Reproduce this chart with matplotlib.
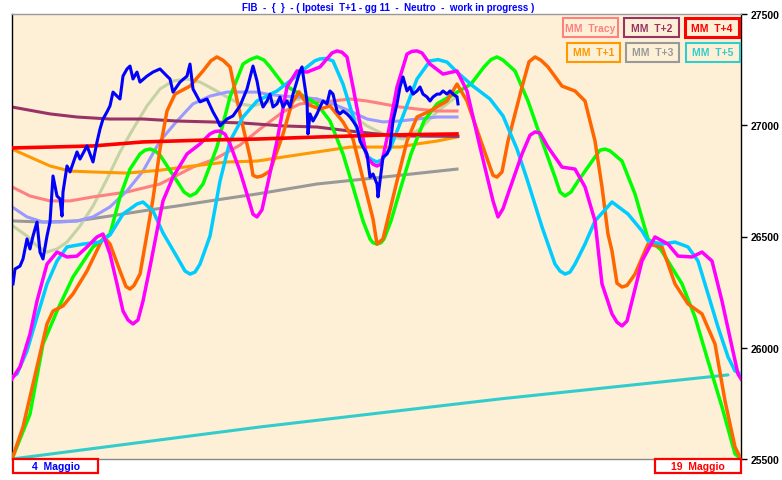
import matplotlib
matplotlib.use('Agg')
import matplotlib.pyplot as plt
from matplotlib.patches import Rectangle

# ---------------- data (t = bar index, v = price) ----------------
green_t = [0, 18, 31, 45, 61, 81, 98, 108, 118, 128, 133, 138, 143, 148, 165, 172, 178, 184, 191, 205, 218, 231, 238, 245, 252, 258, 271, 288, 305, 318,
           331, 341, 351, 358, 361, 365, 369, 372, 379, 389, 399, 412, 425, 442, 459, 472, 479, 485, 491, 503, 516, 530, 543, 548, 553, 559, 566, 583, 588, 593,
           598, 610, 623, 636, 649, 670, 683, 696, 710, 723, 729]
green_v = [25500, 25702, 26017, 26165, 26318, 26453, 26511, 26678, 26803, 26871, 26888, 26893, 26885, 26866, 26749, 26700, 26682, 26695, 26736, 26902, 27127, 27275, 27295, 27307, 27293, 27262, 27185, 27140, 27096, 27019,
           26871, 26723, 26570, 26489, 26472, 26466, 26472, 26489, 26570, 26723, 26871, 27019, 27096, 27140, 27185, 27262, 27295, 27307, 27293, 27244, 27109, 26929, 26767, 26700, 26682, 26700, 26749, 26857, 26888, 26893,
           26885, 26839, 26691, 26489, 26440, 26287, 26138, 25941, 25734, 25523, 25500]

orange_t = [0, 11, 25, 35, 41, 51, 61, 75, 88, 92, 98, 108, 114, 118, 122, 128, 135, 141, 148, 155, 163, 178, 191, 199, 205, 211, 218, 228, 238, 241,
            245, 250, 258, 271, 280, 287, 295, 308, 318, 331, 341, 351, 361, 365, 371, 385, 395, 405, 418, 435, 445, 455, 471, 481, 485, 490, 496, 510, 517, 523,
            529, 536, 550, 563, 573, 583, 590, 596, 600, 605, 610, 615, 623, 636, 650, 663, 676, 690, 703, 713, 723, 729]
orange_v = [25500, 25644, 25914, 26107, 26165, 26188, 26242, 26345, 26466, 26498, 26466, 26345, 26275, 26264, 26280, 26331, 26511, 26669, 26893, 27064, 27140, 27176, 27244, 27290, 27307, 27292, 27262, 27051, 26857, 26775,
            26767, 26772, 26794, 26960, 27100, 27150, 27095, 27073, 27087, 27015, 26938, 26758, 26579, 26466, 26489, 26749, 26929, 27037, 27064, 27109, 27185, 27109, 26902, 26775, 26767, 26790, 26929, 27172, 27285, 27307,
            27292, 27262, 27176, 27154, 27109, 26929, 26723, 26511, 26435, 26290, 26273, 26280, 26331, 26466, 26453, 26287, 26197, 26152, 26017, 25761, 25554, 25500]

magenta_t = [0, 8, 18, 25, 35, 45, 55, 65, 75, 85, 91, 98, 105, 111, 116, 121, 126, 131, 138, 145, 151, 161, 175, 188, 198, 203, 208, 213, 218, 228,
             238, 241, 245, 250, 255, 265, 275, 285, 295, 308, 320, 325, 330, 335, 341, 348, 355, 361, 365, 369, 371, 378, 385, 395, 400, 405, 410, 418, 431, 445,
             455, 468, 481, 486, 491, 496, 510, 518, 523, 528, 536, 550, 563, 573, 583, 590, 600, 605, 610, 615, 620, 630, 643, 656, 666, 680, 690, 700, 710, 720,
             726, 729]
magenta_v = [25860, 25914, 26062, 26210, 26376, 26430, 26408, 26412, 26453, 26498, 26511, 26421, 26287, 26165, 26125, 26107, 26125, 26210, 26363, 26525, 26660, 26767, 26871, 26916, 26961, 26972, 26974, 26960, 26916, 26794,
             26646, 26600, 26588, 26620, 26723, 26929, 27172, 27244, 27239, 27262, 27325, 27334, 27328, 27307, 27172, 27006, 26857, 26825, 26817, 26825, 26857, 27006, 27172, 27320, 27332, 27334, 27325, 27275, 27230, 27244,
             27154, 26902, 26660, 26588, 26625, 26691, 26871, 26955, 26970, 26965, 26902, 26812, 26803, 26723, 26570, 26287, 26152, 26115, 26098, 26120, 26210, 26390, 26498, 26466, 26412, 26408, 26430, 26390, 26210, 26004,
             25882, 25860]

cyan_t = [0, 5, 15, 25, 35, 45, 55, 71, 88, 98, 111, 125, 131, 141, 151, 165, 173, 178, 183, 188, 198, 208, 218, 231, 245, 265, 278, 295, 303, 308,
          314, 321, 331, 345, 355, 360, 365, 370, 378, 391, 405, 418, 426, 435, 445, 461, 478, 491, 505, 515, 530, 543, 548, 553, 558, 563, 573, 583, 600, 616,
          630, 636, 650, 663, 676, 686, 696, 706, 716, 723, 729]
cyan_v = [25869, 25882, 25986, 26138, 26287, 26390, 26453, 26466, 26475, 26507, 26601, 26646, 26655, 26615, 26516, 26408, 26345, 26331, 26340, 26376, 26502, 26749, 26929, 27037, 27109, 27154, 27199, 27262, 27290, 27298,
          27300, 27289, 27185, 26983, 26862, 26845, 26835, 26845, 26893, 27042, 27208, 27289, 27295, 27284, 27239, 27176, 27118, 27042, 26893, 26758, 26543, 26376, 26345, 26331, 26340, 26376, 26466, 26570, 26655, 26601,
          26525, 26480, 26466, 26475, 26453, 26390, 26242, 26093, 25959, 25896, 25882]

price_t = [1, 3, 8, 11, 15, 18, 21, 25, 28, 31, 35, 38, 41, 45, 48, 50, 51, 55, 58, 65, 68, 75, 81, 85, 88, 91, 95, 98, 101, 105, 108, 111, 115, 118, 121, 125, 128,
           135, 141, 148, 155, 158, 161, 168, 175, 178, 181, 188, 195, 201, 205, 208, 215, 221, 228, 235, 241, 245, 248, 251, 255, 258, 261, 265, 268, 271, 275, 278,
           281, 285, 288, 290, 292, 295, 296, 298, 301, 305, 308, 311, 315, 318, 321, 325, 328, 331, 335, 338, 341, 345, 348, 351, 355, 358, 361, 365, 366, 368,
           371, 375, 378, 381, 385, 388, 391, 395, 398, 401, 405, 408, 411, 415, 418, 421, 425, 428, 431, 435, 438, 441, 445, 446]
price_v = [26287, 26354, 26367, 26399, 26489, 26444, 26502, 26565, 26430, 26399, 26502, 26565, 26772, 26682, 26669, 26592, 26700, 26817, 26790, 26880, 26848, 26907, 26835, 26925, 26983, 27028, 27060, 27087, 27149, 27131, 27118, 27221, 27253, 27266, 27208, 27239, 27194,
           27221, 27239, 27253, 27221, 27208, 27149, 27194, 27221, 27275, 27163, 27105, 27118, 27060, 27028, 26997, 27028, 27042, 27087, 27163, 27266, 27199, 27127, 27082, 27109, 27140, 27082, 27096, 27127, 27082, 27109, 27082,
           27140, 27199, 27244, 27262, 27199, 27109, 26961, 27051, 27019, 27051, 27082, 27109, 27096, 27154, 27140, 27064, 27051, 27064, 27051, 27037, 27019, 26992, 26929, 26902, 26871, 26767, 26781, 26736, 26678, 26749,
           26857, 26871, 26902, 27019, 27096, 27172, 27217, 27154, 27172, 27140, 27154, 27172, 27140, 27127, 27109, 27127, 27140, 27140, 27154, 27140, 27154, 27140, 27127, 27096]

ma_t2_t = [0, 38, 65, 98, 131, 165, 198, 231, 271, 305, 338, 365, 388, 446]
ma_t2_v = [27082, 27051, 27037, 27028, 27028, 27019, 27015, 27010, 26997, 26992, 26974, 26961, 26952, 26950]

ma_t4_t = [0, 38, 81, 131, 198, 245, 305, 371, 445]
ma_t4_v = [26898, 26902, 26907, 26925, 26934, 26938, 26947, 26956, 26961]

ma_t1_t = [0, 18, 38, 58, 81, 115, 148, 181, 215, 245, 271, 305, 338, 365, 388, 405, 425, 445]
ma_t1_v = [26893, 26857, 26817, 26794, 26790, 26785, 26798, 26817, 26835, 26839, 26857, 26880, 26902, 26902, 26902, 26916, 26929, 26947]

tracy_t = [0, 18, 38, 58, 81, 115, 148, 181, 203, 228, 248, 271, 288, 305, 321, 338, 355, 371, 388, 405, 425, 445]
tracy_v = [26723, 26682, 26660, 26660, 26678, 26700, 26736, 26812, 26848, 26911, 26983, 27060, 27096, 27105, 27109, 27118, 27109, 27096, 27082, 27073, 27064, 27064]

lav_t = [0, 15, 31, 48, 65, 81, 98, 115, 131, 148, 165, 181, 198, 215, 231, 245, 255, 271, 288, 305, 321, 338, 355, 371, 388, 405, 425, 445]
lav_v = [26633, 26588, 26565, 26565, 26570, 26588, 26633, 26705, 26794, 26929, 27019, 27096, 27131, 27149, 27149, 27149, 27140, 27131, 27127, 27118, 27096, 27064, 27028, 27015, 27019, 27028, 27037, 27037]

sage_t = [1, 15, 25, 35, 45, 55, 68, 81, 95, 108, 121, 135, 148, 161, 175, 188, 201, 215, 228, 241, 255, 271, 288, 305, 321, 338, 355, 371, 381, 391, 408, 425, 435, 445]
sage_v = [26547, 26502, 26457, 26430, 26444, 26475, 26547, 26637, 26758, 26880, 26983, 27087, 27163, 27199, 27208, 27194, 27163, 27127, 27096, 27087, 27105, 27109, 27118, 27118, 27096, 27051, 26997, 26961, 26947, 26938, 26983, 27060, 27096, 27131]

ma_t3_t = [0, 31, 65, 98, 131, 165, 198, 231, 245, 305, 371, 445]
ma_t3_v = [26570, 26565, 26570, 26592, 26615, 26637, 26660, 26682, 26691, 26736, 26767, 26803]

ma_t5_t = [0, 248, 488, 716]
ma_t5_v = [25500, 25644, 25770, 25878]

y_ticks = [25500, 26000, 26500, 27000, 27500]
legend_rows = [["MM  Tracy", "MM  T+2", "MM  T+4"], ["MM  T+1", "MM  T+3", "MM  T+5"]]
title_text = "FIB  -  {  }  - ( Ipotesi  T+1 - gg 11  -  Neutro  -  work in progress )"
start_label = "4  Maggio"
end_label = "19  Maggio"

# ---------------- drawing ----------------
W, H = 782, 481
FONT = ['Liberation Sans Narrow', 'Liberation Sans', 'DejaVu Sans']
plt.rcParams['font.family'] = FONT

fig = plt.figure(figsize=(W / 100, H / 100), dpi=100)
fig.patch.set_facecolor('white')
ax = fig.add_axes([12 / W, 21 / H, 729 / W, 445 / H])
ax.set_facecolor('#FDF0D6')
ax.set_xlim(0, 729)
ax.set_ylim(25500, 27500)

lw = 2.5
ax.plot(ma_t5_t, ma_t5_v, color='#33CCCC', lw=2.2, zorder=2, solid_capstyle='round')
ax.plot(ma_t3_t, ma_t3_v, color='#999999', lw=2.2, zorder=2)
ax.plot(sage_t, sage_v, color='#C4D3A4', lw=2.2, zorder=2)
ax.plot(tracy_t, tracy_v, color='#FF8080', lw=2.2, zorder=2)
ax.plot(lav_t, lav_v, color='#9999FF', lw=2.2, zorder=2)
ax.plot(ma_t1_t, ma_t1_v, color='#FF9900', lw=2.2, zorder=2)
ax.plot(ma_t2_t, ma_t2_v, color='#993366', lw=2.2, zorder=2)
ax.plot(green_t, green_v, color='#00FF00', lw=lw, zorder=3, solid_joinstyle='round')
ax.plot(orange_t, orange_v, color='#FF6600', lw=lw, zorder=3, solid_joinstyle='round')
ax.plot(cyan_t, cyan_v, color='#00CCFF', lw=lw, zorder=3, solid_joinstyle='round')
ax.plot(magenta_t, magenta_v, color='#FF00FF', lw=lw, zorder=3, solid_joinstyle='round')
ax.plot(ma_t4_t, ma_t4_v, color='#FF0000', lw=2.6, zorder=4)
ax.plot(price_t, price_v, color='#0000FF', lw=2.2, zorder=5)

# axes styling
ax.set_xticks([])
ax.yaxis.tick_right()
ax.set_yticks(y_ticks)
ax.set_yticklabels([str(v) for v in y_ticks])
ax.tick_params(axis='y', direction='out', length=4, width=1, pad=3, labelsize=7.5, colors='black')
for lab in ax.get_yticklabels():
    lab.set_fontweight('bold')
ax.spines['left'].set_color('black')
ax.spines['right'].set_color('black')
ax.spines['top'].set_color('#999999')
ax.spines['bottom'].set_color('#888888')
for s in ax.spines.values():
    s.set_linewidth(1)

# title
fig.text(388 / W, 1 - 8 / H, title_text, color='#0000FF', fontsize=7, fontweight='bold',
         ha='center', va='center')

# legend boxes
box_specs = [
    [(563, 19, 618, 38, '#FF8080', 1.5), (624, 19, 679, 38, '#993366', 1.5), (685, 19, 739, 38, '#FF0000', 2.2)],
    [(567, 44, 620, 63, '#FF9900', 1.5), (626, 44, 679, 63, '#999999', 1.5), (686, 44, 740, 63, '#33CCCC', 1.5)],
]
for r, row in enumerate(box_specs):
    for c, (x0, y0, x1, y1, col, blw) in enumerate(row):
        fig.add_artist(Rectangle((x0 / W, 1 - y1 / H), (x1 - x0) / W, (y1 - y0) / H,
                                 transform=fig.transFigure, fill=False, edgecolor=col, lw=blw, zorder=10))
        fig.text((x0 + x1) / 2 / W, 1 - (y0 + y1) / 2 / H, legend_rows[r][c], color=col,
                 fontsize=7.5, fontweight='bold', ha='center', va='center', zorder=11)

# date labels at bottom
for (x0, x1, txt, tcol) in [(13, 98, start_label, '#0000FF'), (655, 741, end_label, '#FF0000')]:
    fig.add_artist(Rectangle((x0 / W, 1 - 474 / H), (x1 - x0) / W, 14 / H,
                             transform=fig.transFigure, facecolor='white', edgecolor='#FF0000', lw=1.6, zorder=10))
    fig.text((x0 + x1) / 2 / W, 1 - 467.5 / H, txt, color=tcol, fontsize=7.5, fontweight='bold',
             ha='center', va='center', zorder=11)

fig.savefig('out.png', dpi=100, facecolor='white')
